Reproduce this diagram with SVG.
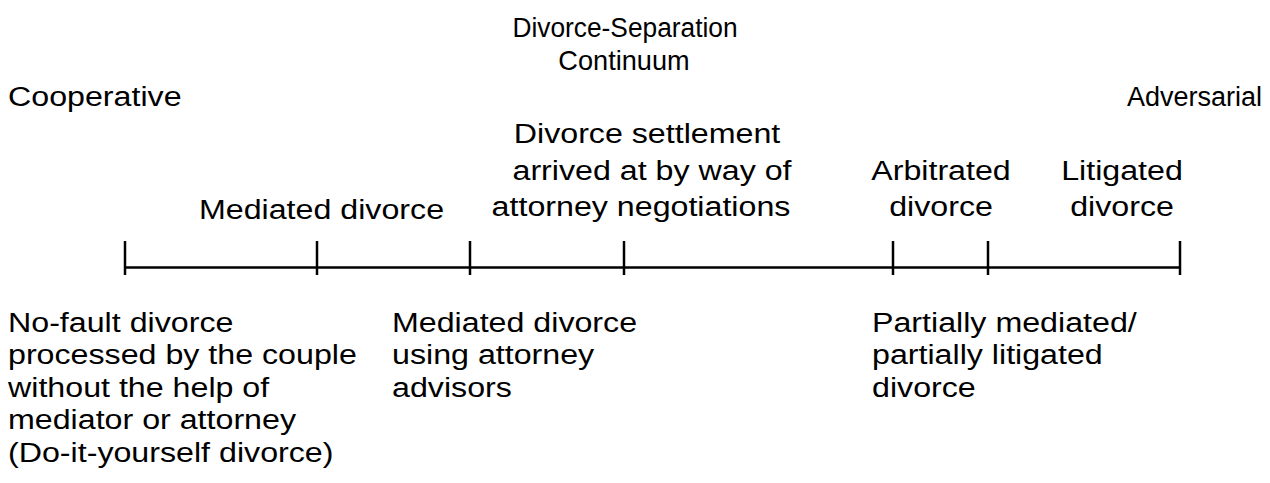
<svg xmlns="http://www.w3.org/2000/svg" width="1270" height="483" viewBox="0 0 1270 483">
<style>
text{font-family:"Liberation Sans",Arial,sans-serif;font-size:28px;fill:#000}
.c{text-anchor:middle}
.e{text-anchor:end}
line{stroke:#000;stroke-width:2.5}
</style>
<rect width="1270" height="483" fill="#fff"/>
<g id="title"><text class="c" transform="translate(625 37) scale(0.94 1)">Divorce-Separation</text><text class="c" transform="translate(624 70) scale(0.97 1)">Continuum</text></g>
<g id="cooperative"><text transform="translate(8 106) scale(1.15 1)">Cooperative</text></g>
<g id="adversarial"><text class="e" transform="translate(1262 106) scale(0.965 1)">Adversarial</text></g>
<g id="connectors">
<line x1="125" y1="267.5" x2="1180" y2="267.5"/>
<line x1="125" y1="241" x2="125" y2="275"/>
<line x1="317" y1="241" x2="317" y2="275"/>
<line x1="470" y1="241" x2="470" y2="275"/>
<line x1="624" y1="241" x2="624" y2="275"/>
<line x1="893" y1="241" x2="893" y2="275"/>
<line x1="988" y1="241" x2="988" y2="275"/>
<line x1="1180" y1="241" x2="1180" y2="275"/>
</g>
<g id="mediated"><text class="c" transform="translate(321.5 219) scale(1.15 1)">Mediated divorce</text></g>
<g id="settlement"><text class="c" transform="translate(647 143) scale(1.15 1)">Divorce settlement</text><text class="c" transform="translate(652 180) scale(1.15 1)">arrived at by way of</text><text class="c" transform="translate(641 216) scale(1.15 1)">attorney negotiations</text></g>
<g id="arbitrated"><text class="c" transform="translate(941 180) scale(1.15 1)">Arbitrated</text><text class="c" transform="translate(941 216) scale(1.15 1)">divorce</text></g>
<g id="litigated"><text class="c" transform="translate(1122 180) scale(1.15 1)">Litigated</text><text class="c" transform="translate(1122 216) scale(1.15 1)">divorce</text></g>
<g id="nofault" transform="translate(8 0) scale(1.15 1)"><text x="0" y="332">No-fault divorce</text><text x="0" y="364.5">processed by the couple</text><text x="0" y="397">without the help of</text><text x="0" y="429.5">mediator or attorney</text><text x="0" y="462">(Do-it-yourself divorce)</text></g>
<g id="mediated-attorney" transform="translate(392 0) scale(1.15 1)"><text x="0" y="332">Mediated divorce</text><text x="0" y="364.5">using attorney</text><text x="0" y="397">advisors</text></g>
<g id="partial" transform="translate(872 0) scale(1.15 1)"><text x="0" y="332">Partially mediated/</text><text x="0" y="364.5">partially litigated</text><text x="0" y="397">divorce</text></g>
</svg>
